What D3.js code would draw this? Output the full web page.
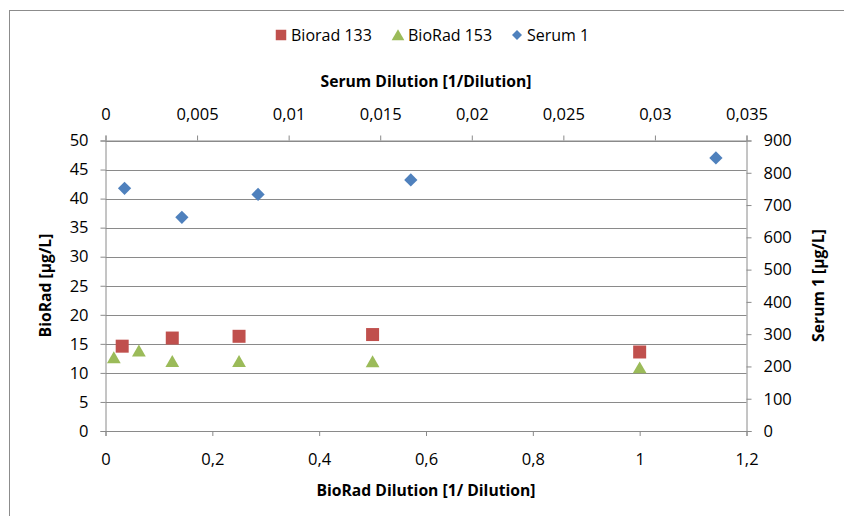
<!DOCTYPE html>
<html><head><meta charset="utf-8">
<script src="https://cdn.jsdelivr.net/npm/d3@7"></script>
<style>
body{margin:0;background:#fff;}
text{font-family:"Open Sans",sans-serif;fill:#000;}
</style></head>
<body><svg id="c" width="844" height="516"></svg>
<script>
// Data
const biorad133X = [0.03125, 0.125, 0.25, 0.5, 1.0];
const biorad133Y = [14.6, 16.0, 16.3, 16.6, 13.6];
const biorad153X = [0.0156, 0.0625, 0.125, 0.25, 0.5, 1.0];
const biorad153Y = [12.7, 13.85, 12.05, 12.05, 12.0, 10.95];
const serumX = [0.00104, 0.00417, 0.00833, 0.01667, 0.03333];
const serumY = [752, 662, 733, 778, 846];
const bottomTicks = [0, 0.2, 0.4, 0.6, 0.8, 1, 1.2];
const topTicks = [0, 0.005, 0.01, 0.015, 0.02, 0.025, 0.03, 0.035];
const leftTicks = [0, 5, 10, 15, 20, 25, 30, 35, 40, 45, 50];
const rightTicks = [0, 100, 200, 300, 400, 500, 600, 700, 800, 900];
const seriesNames = ["Biorad 133", "BioRad 153", "Serum 1"];
const colors = ["#C0504D", "#9BBB59", "#4F81BD"];

const svg = d3.select("#c");
const L = 105.5, R = 746.5, T = 140.5, B = 431;
const fmt = d => String(d).replace(".", ",");

const xB = d3.scaleLinear().domain([0, 1.2]).range([L, R]);
const xT = d3.scaleLinear().domain([0, 0.035]).range([L, R]);
const yL = d3.scaleLinear().domain([0, 50]).range([B, T]);
const yR = d3.scaleLinear().domain([0, 900]).range([B, T]);

// chart border
svg.append("rect").attr("x", 9.5).attr("y", 10.5).attr("width", 850).attr("height", 520)
  .attr("fill", "none").attr("stroke", "#8c8c8c").attr("stroke-width", 1);

// gridlines
svg.append("g").selectAll("line").data(leftTicks).join("line")
  .attr("x1", L).attr("x2", R).attr("y1", d => Math.round(yL(d)) + 0.5).attr("y2", d => Math.round(yL(d)) + 0.5)
  .attr("stroke", "#8a8a8a").attr("stroke-width", 1);

const FS = "16.5px";
const axisStyle = g => {
  g.selectAll("path").attr("stroke", "#8a8a8a");
  g.selectAll("line").attr("stroke", "#8a8a8a");
  g.selectAll("text").attr("font-size", FS).attr("font-family", "Open Sans").attr("fill", "#000");
};

svg.append("g").attr("transform", `translate(0,${B})`)
  .call(d3.axisBottom(xB).tickValues(bottomTicks).tickFormat(fmt).tickSizeOuter(0).tickSize(5).tickPadding(17))
  .call(axisStyle);
svg.append("g").attr("transform", `translate(0,${T})`)
  .call(d3.axisTop(xT).tickValues(topTicks).tickFormat(fmt).tickSizeOuter(0).tickSize(5).tickPadding(16))
  .call(axisStyle);
svg.append("g").attr("transform", `translate(${L},0)`)
  .call(d3.axisLeft(yL).tickValues(leftTicks).tickFormat(fmt).tickSizeOuter(0).tickSize(5).tickPadding(12))
  .call(axisStyle);
svg.append("g").attr("transform", `translate(${R},0)`)
  .call(d3.axisRight(yR).tickValues(rightTicks).tickFormat(fmt).tickSizeOuter(0).tickSize(5).tickPadding(12))
  .call(axisStyle);

// markers
const sq = d3.symbol().type(d3.symbolSquare).size(169);
const tri = d3.symbol().type(d3.symbolTriangle).size(82);
const dia = d3.symbol().type(d3.symbolSquare).size(88);

svg.append("g").selectAll("path").data(d3.range(biorad133X.length)).join("path")
  .attr("d", sq).attr("fill", colors[0])
  .attr("transform", i => `translate(${xB(biorad133X[i])},${yL(biorad133Y[i])})`);
svg.append("g").selectAll("path").data(d3.range(biorad153X.length)).join("path")
  .attr("d", tri).attr("fill", colors[1])
  .attr("transform", i => `translate(${xB(biorad153X[i])},${yL(biorad153Y[i]) + 2})`);
svg.append("g").selectAll("path").data(d3.range(serumX.length)).join("path")
  .attr("d", dia).attr("fill", colors[2])
  .attr("transform", i => `translate(${xT(serumX[i])},${yR(serumY[i])}) rotate(45)`);

// axis titles
svg.append("text").attr("x", 426).attr("y", 87).attr("text-anchor", "middle")
  .attr("font-size", "15.7px").attr("font-weight", "bold").text("Serum Dilution [1/Dilution]");
svg.append("text").attr("x", 426).attr("y", 496).attr("text-anchor", "middle")
  .attr("font-size", "15.7px").attr("font-weight", "bold").text("BioRad Dilution [1/ Dilution]");
svg.append("text").attr("transform", "translate(51,285.5) rotate(-90)").attr("text-anchor", "middle")
  .attr("font-size", "15.7px").attr("font-weight", "bold").text("BioRad [µg/L]");
svg.append("text").attr("transform", "translate(824,285.5) rotate(-90)").attr("text-anchor", "middle")
  .attr("font-size", "15.7px").attr("font-weight", "bold").text("Serum 1 [µg/L]");

// legend
const legX = [275, 392, 511];
const lg = svg.append("g");
seriesNames.forEach((n, i) => {
  const g = lg.append("g").attr("transform", `translate(${legX[i]},35)`);
  const p = g.append("path").attr("fill", colors[i]).attr("transform", "translate(6,0)");
  if (i === 0) p.attr("d", d3.symbol().type(d3.symbolSquare).size(110));
  if (i === 1) p.attr("d", d3.symbol().type(d3.symbolTriangle).size(70)).attr("transform", "translate(6,1.5)");
  if (i === 2) p.attr("d", d3.symbol().type(d3.symbolSquare).size(50)).attr("transform", "translate(6,0) rotate(45)");
  g.append("text").attr("x", 16).attr("y", 6).attr("font-size", "16px").text(n);
});
</script></body></html>
